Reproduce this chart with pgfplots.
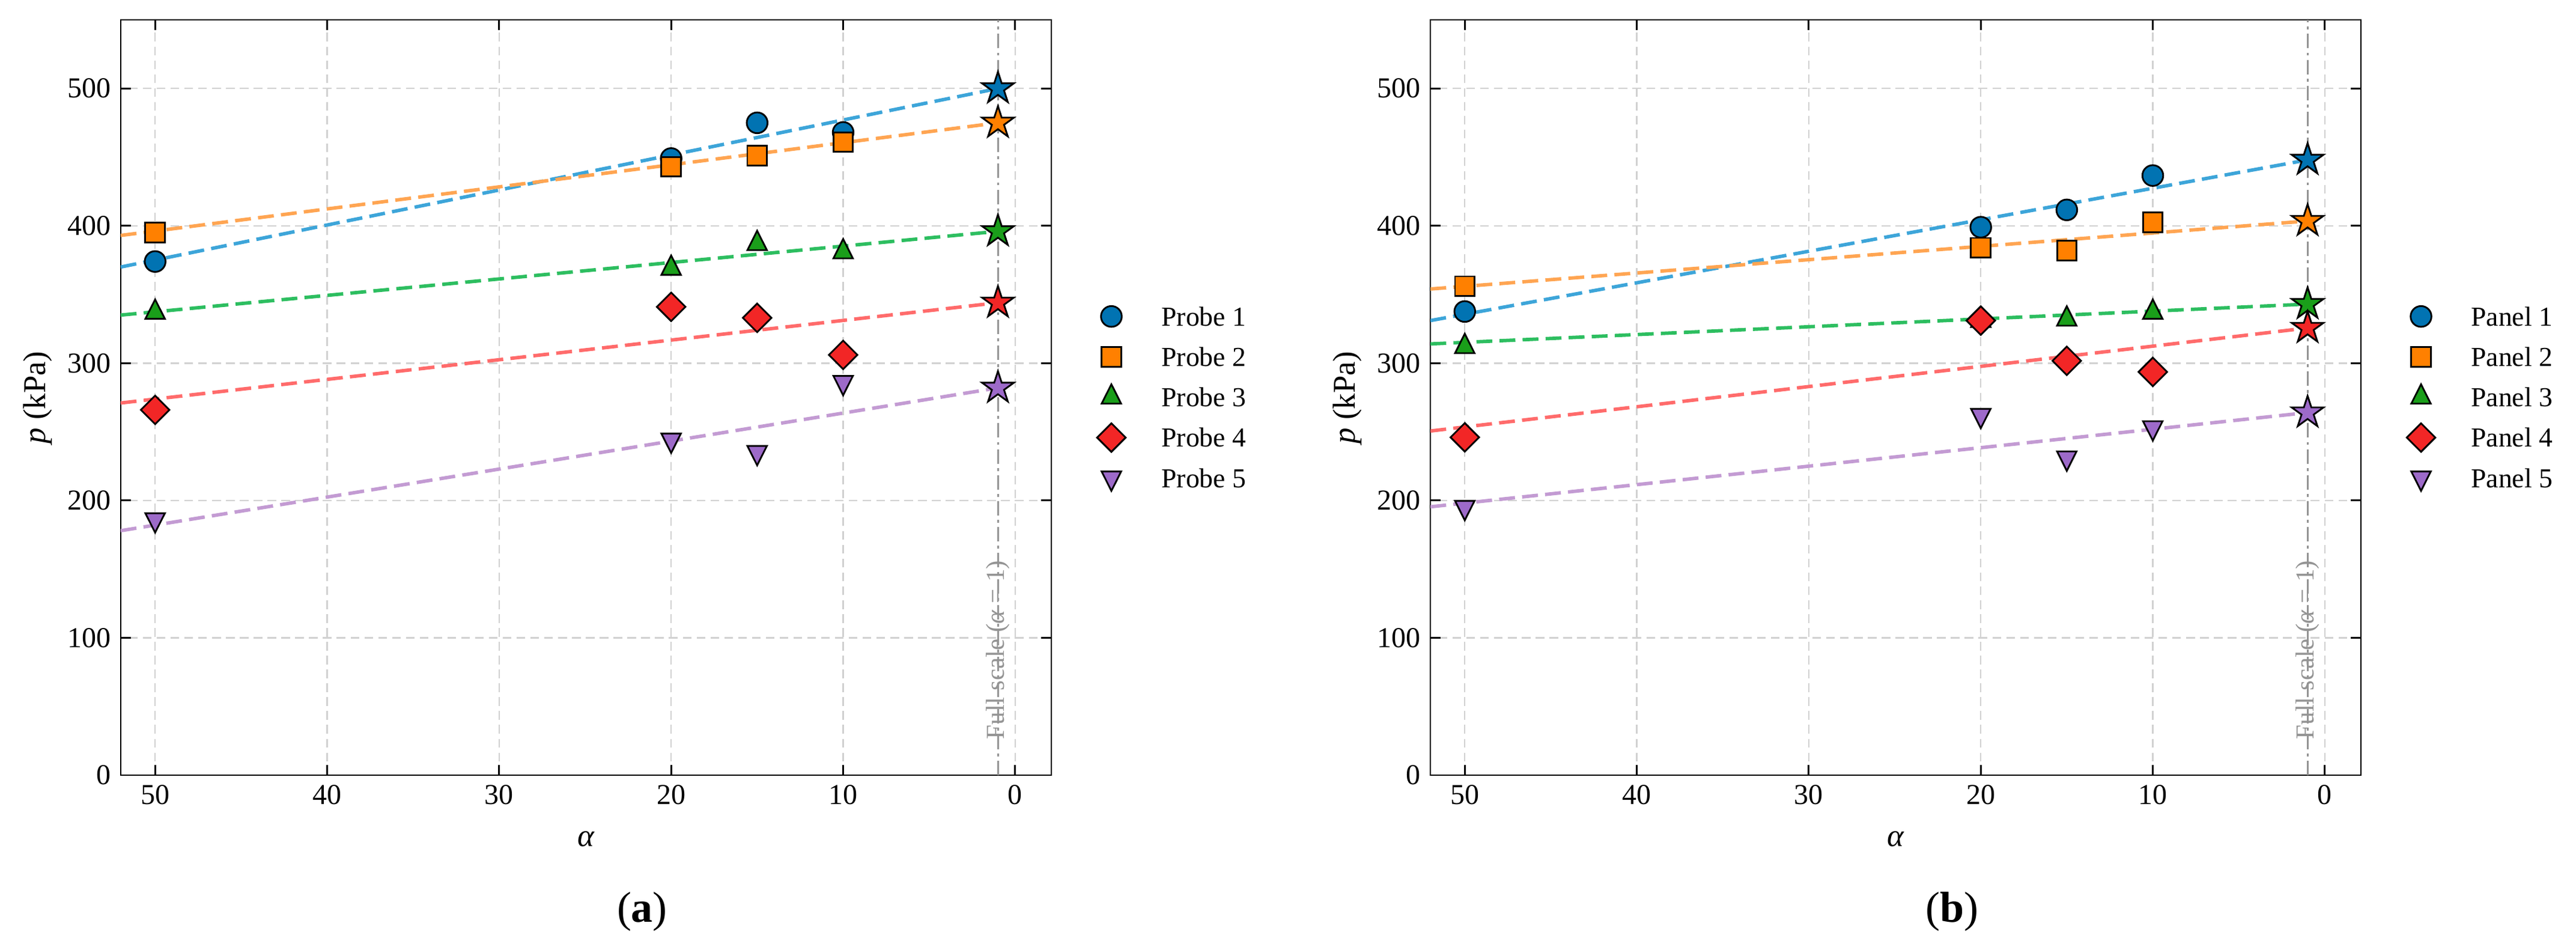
\documentclass[border=0pt]{standalone}
\usepackage{fontspec}
\setmainfont{Liberation Serif}
\usepackage{pgfplots}
\pgfplotsset{compat=1.18}
\usetikzlibrary{plotmarks}

\definecolor{cA}{HTML}{0173B2}
\definecolor{cB}{HTML}{FF8000}
\definecolor{cC}{HTML}{1A9E1A}
\definecolor{cD}{HTML}{F22626}
\definecolor{cE}{HTML}{9D6AC9}
\definecolor{lA}{HTML}{3DA5D9}
\definecolor{lB}{HTML}{FFA552}
\definecolor{lC}{HTML}{2DBE60}
\definecolor{lD}{HTML}{FF6B6B}
\definecolor{lE}{HTML}{C39BD3}

\pgfdeclareplotmark{fstar}{%
 \pgfpathmoveto{\pgfpointpolar{90}{\pgfplotmarksize}}%
 \pgfpathlineto{\pgfpointpolar{126}{0.382\pgfplotmarksize}}%
 \pgfpathlineto{\pgfpointpolar{162}{\pgfplotmarksize}}%
 \pgfpathlineto{\pgfpointpolar{198}{0.382\pgfplotmarksize}}%
 \pgfpathlineto{\pgfpointpolar{234}{\pgfplotmarksize}}%
 \pgfpathlineto{\pgfpointpolar{270}{0.382\pgfplotmarksize}}%
 \pgfpathlineto{\pgfpointpolar{306}{\pgfplotmarksize}}%
 \pgfpathlineto{\pgfpointpolar{342}{0.382\pgfplotmarksize}}%
 \pgfpathlineto{\pgfpointpolar{18}{\pgfplotmarksize}}%
 \pgfpathlineto{\pgfpointpolar{54}{0.382\pgfplotmarksize}}%
 \pgfpathclose
 \pgfusepathqfillstroke}

\pgfplotsset{
  legimg/.style={legend image code/.code={%
      \begin{pgfinterruptboundingbox}
      \draw[##1] plot coordinates {(6pt,0pt)};
      \end{pgfinterruptboundingbox}
      \pgfpathrectangle{\pgfpoint{0pt}{-2pt}}{\pgfpoint{23.4pt}{4pt}}%
      \pgfusepath{use as bounding box}}},
  m1/.style={only marks, mark=*, mark size=3.6pt, mark options={draw=black, fill=cA, line width=0.6pt, solid}, legimg},
  m2/.style={only marks, mark=square*, mark size=3.4pt, mark options={draw=black, fill=cB, line width=0.6pt, solid}, legimg},
  m3/.style={only marks, mark=triangle*, mark size=3.9pt, mark options={draw=black, fill=cC, line width=0.6pt, solid, yscale=1.15}, legimg},
  m4/.style={only marks, mark=square*, mark size=3.5pt, mark options={draw=black, fill=cD, line width=0.6pt, solid, rotate=45}, legimg},
  m5/.style={only marks, mark=triangle*, mark size=3.9pt, mark options={draw=black, fill=cE, line width=0.6pt, solid, rotate=180, yscale=1.15}, legimg},
  st/.style={forget plot, only marks, mark=fstar, mark size=5.8pt, mark options={draw=black, fill=#1, line width=0.6pt, solid, miter limit=10}},
  fit/.style={forget plot, no marks, color=#1, line width=1.2pt, dash pattern=on 5.5pt off 2.5pt},
  panel/.style={
    scale only axis, width=322.7pt, height=261.875pt,
    anchor=south west,
    x dir=reverse, xmin=-2.1, xmax=52, ymin=0, ymax=550,
    xtick={50,40,30,20,10,0}, ytick={0,100,200,300,400,500},
    tick align=inside, major tick length=3.6pt,
    tick style={black, line width=0.6pt},
    axis line style={line width=0.6pt},
    xmajorgrids, ymajorgrids,
    major grid style={color=black!18, line width=0.5pt, dash pattern=on 3pt off 1.8pt},
    /pgf/number format/assume math mode=true,
    tick label style={font=\fontsize{10}{12}\selectfont},
    label style={font=\fontsize{11}{13}\selectfont},
    xlabel={\textit{α}}, ylabel={\textit{p} (kPa)},
    xlabel style={at={(axis description cs:0.5,-0.0843)}, anchor=center},
    ylabel style={at={(axis description cs:-0.0891,0.5)}, anchor=center},
    legend cell align=left,
    legend style={at={(axis description cs:1.046,0.6197)}, anchor=north west,
      draw=none, fill=none, inner sep=0pt, outer sep=0pt,
      row sep=7.5pt, column sep=0pt,
      font=\fontsize{9.5}{11}\selectfont,
      nodes={inner sep=0pt, text height=6.5pt, text depth=0pt, xshift=6pt}},
  },
}

\begin{document}
\begin{tikzpicture}
\useasboundingbox (0,0) rectangle (893.33pt,328.125pt);

% ---------------- (a) ----------------
\begin{axis}[panel, at={(41.875pt,59.375pt)},
  legend entries={Probe 1,Probe 2,Probe 3,Probe 4,Probe 5}]
\addplot[forget plot, color=black!42, line width=0.7pt, dash pattern=on 5pt off 1.5pt on 1pt off 1.5pt] coordinates {(1,0) (1,550)};
\addplot[fit=lA] coordinates {(52,370) (1,500)};
\addplot[fit=lB] coordinates {(52,393) (1,475)};
\addplot[fit=lC] coordinates {(52,335) (1,396)};
\addplot[fit=lD] coordinates {(52,271) (1,344)};
\addplot[fit=lE] coordinates {(52,178) (1,282)};
\addplot[m1] coordinates {(50,374) (20,449) (15,475) (10,468)};
\addplot[st=cA] coordinates {(1,500)};
\addplot[m2] coordinates {(50,395) (20,443) (15,451) (10,461)};
\addplot[st=cB] coordinates {(1,475)};
\addplot[m3] coordinates {(50,337) (20,369) (15,387) (10,381)};
\addplot[st=cC] coordinates {(1,396)};
\addplot[m4] coordinates {(50,266) (20,341) (15,333) (10,306)};
\addplot[st=cD] coordinates {(1,344)};
\addplot[m5] coordinates {(50,186) (20,244) (15,235) (10,286)};
\addplot[st=cE] coordinates {(1,282)};
\node[rotate=90, anchor=west, inner sep=0pt, xshift=-2.5pt, text=black!42, font=\fontsize{9}{11}\selectfont] at (axis cs:1,31) {Full scale (\textit{α} = 1)};
\end{axis}

% ---------------- (b) ----------------
\begin{axis}[panel, at={(496.04pt,59.375pt)},
  legend entries={Panel 1,Panel 2,Panel 3,Panel 4,Panel 5}]
\addplot[forget plot, color=black!42, line width=0.7pt, dash pattern=on 5pt off 1.5pt on 1pt off 1.5pt] coordinates {(1,0) (1,550)};
\addplot[fit=lA] coordinates {(52,331) (1,448)};
\addplot[fit=lB] coordinates {(52,354) (1,403.5)};
\addplot[fit=lC] coordinates {(52,314) (1,343)};
\addplot[fit=lD] coordinates {(52,250.6) (1,325.6)};
\addplot[fit=lE] coordinates {(52,195.4) (1,264)};
\addplot[m1] coordinates {(50,337.6) (20,399) (15,411.6) (10,436.6)};
\addplot[st=cA] coordinates {(1,448)};
\addplot[m2] coordinates {(50,356) (20,384) (15,382) (10,402.6)};
\addplot[st=cB] coordinates {(1,403.5)};
\addplot[m3] coordinates {(50,312) (20,331) (15,332) (10,337)};
\addplot[st=cC] coordinates {(1,343)};
\addplot[m4] coordinates {(50,246) (20,331) (15,301.7) (10,293.6)};
\addplot[st=cD] coordinates {(1,325.6)};
\addplot[m5] coordinates {(50,195) (20,262) (15,231) (10,253)};
\addplot[st=cE] coordinates {(1,264)};
\node[rotate=90, anchor=west, inner sep=0pt, xshift=-2.5pt, text=black!42, font=\fontsize{9}{11}\selectfont] at (axis cs:1,31) {Full scale (\textit{α} = 1)};
\end{axis}

\node[font=\fontsize{15}{18}\selectfont] at (222.7pt,12.1pt) {(\textbf{a})};
\node[font=\fontsize{15}{18}\selectfont] at (676.9pt,12.1pt) {(\textbf{b})};
\end{tikzpicture}
\end{document}
